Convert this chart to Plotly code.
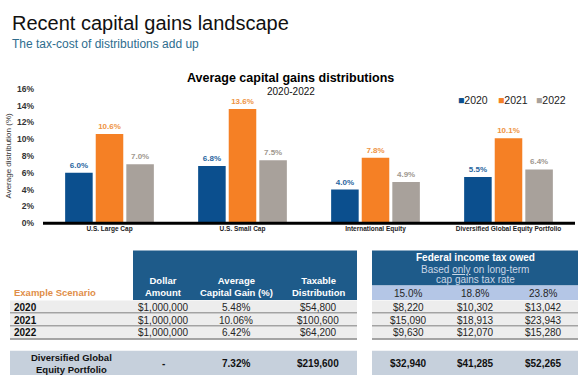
import plotly.graph_objects as go

W, H = 580, 383
FONT = "Arial, 'Liberation Sans', Helvetica, sans-serif"

# ---------------- data ----------------
categories = ["U.S. Large Cap", "U.S. Small Cap", "International Equity",
              "Diversified Global Equity Portfolio"]
years = ["2020", "2021", "2022"]
dist_2020 = [6.0, 6.8, 4.0, 5.5]
dist_2021 = [10.6, 13.6, 7.8, 10.1]
dist_2022 = [7.0, 7.5, 4.9, 6.4]
bar_colors = ["#0B4F8E", "#F58025", "#A8A19B"]
label_colors = ["#2A66A0", "#EE9444", "#A0988F"]
y_tick_vals = [0, 2, 4, 6, 8, 10, 12, 14, 16]
y_tick_text = ["0%", "2%", "4%", "6%", "8%", "10%", "12%", "14%", "16%"]

table_years = ["2020", "2021", "2022"]
left_headers = ["Dollar<br>Amount", "Average<br>Capital Gain (%)", "Taxable<br>Distribution"]
dollar_amount = ["$1,000,000", "$1,000,000", "$1,000,000"]
avg_gain = ["5.48%", "10.06%", "6.42%"]
taxable = ["$54,800", "$100,600", "$64,200"]
tax_rates = ["15.0%", "18.8%", "23.8%"]
tax_15 = ["$8,220", "$15,090", "$9,630"]
tax_188 = ["$10,302", "$18,913", "$12,070"]
tax_238 = ["$13,042", "$23,943", "$15,280"]
total_label = "Diversified Global<br>Equity Portfolio"
total_left = ["-", "7.32%", "$219,600"]
total_tax = ["$32,940", "$41,285", "$52,265"]


def px(x):
    return x / W


def py(y):
    return 1 - y / H


fig = go.Figure()
series = [dist_2020, dist_2021, dist_2022]
for name, vals, col, lcol in zip(years, series, bar_colors, label_colors):
    fig.add_trace(go.Bar(
        x=categories, y=vals, name=name,
        marker=dict(color=col, line=dict(width=0)),
        text=[f"{v:.1f}%" for v in vals], textposition="outside",
        textfont=dict(family=FONT, size=8, color=lcol, weight="bold"),
        cliponaxis=False, showlegend=False,
    ))

shapes = []
annotations = []


def txt(x, y, s, size=9.5, color="#262626", bold=False, xanchor="center", **kw):
    annotations.append(dict(
        x=px(x), y=py(y), xref="paper", yref="paper", text=s, showarrow=False,
        xanchor=xanchor, yanchor="middle",
        font=dict(family=FONT, size=size, color=color, weight="bold" if bold else "normal"),
        **kw))


def rect(x0, y0, x1, y1, fill):
    shapes.append(dict(type="rect", xref="paper", yref="paper",
                       x0=px(x0), x1=px(x1), y0=py(y1), y1=py(y0),
                       fillcolor=fill, line=dict(width=0), layer="above"))


def hline(x0, x1, y, color, width):
    shapes.append(dict(type="line", xref="paper", yref="paper",
                       x0=px(x0), x1=px(x1), y0=py(y), y1=py(y),
                       line=dict(color=color, width=width), layer="above"))


# baseline of bar chart
hline(43, 575, 224, "#000000", 3)

# titles
txt(10, 18, "Recent capital gains landscape", size=20, color="#111111", xanchor="left")
txt(10, 40, "The tax-cost of distributions add up", size=12, color="#2E6D8E", xanchor="left")
txt(291, 75, "Average capital gains distributions", size=12.5, color="#000000", bold=True)
txt(291, 89, "2020-2022", size=10, color="#111111")

# legend (built from series names/colours)
leg_x = [456, 496, 534]
for lx, name, col in zip(leg_x, years, bar_colors):
    txt(lx, 98, f"<span style='color:{col}'>■</span>{name}", size=10.5,
        color="#222222", xanchor="left")

# -------- table geometry --------
LX0, LX1 = 10, 357
HX0 = 133
RX0, RX1 = 372, 578
row_tops = [303.5, 316.8, 330.1]
ROW_H = 13.3
col_left = [163, 236, 318]
col_right = [408, 475, 543]

rect(HX0, 252, LX1, 303, "#1E5B8A")
rect(RX0, 252, RX1, 288, "#1E5B8A")
rect(RX0, 288, RX1, 303, "#B4C6E6")
for t in row_tops:
    rect(LX0, t, LX1, t + ROW_H, "#EDEDED")
    rect(RX0, t, RX1, t + ROW_H, "#EDEDED")
    hline(LX0, LX1, t + ROW_H - 0.5, "#8A8A8A", 1.5)
    hline(RX0, RX1, t + ROW_H - 0.5, "#8A8A8A", 1.5)
rect(LX0, 355, LX1, 380, "#C6D0DC")
rect(RX0, 355, RX1, 380, "#C6D0DC")

# headers
for cx, h in zip(col_left, left_headers):
    txt(cx, 289, h, size=9.5, color="#FFFFFF", bold=True)
txt(12, 295, "Example Scenario", size=9.5, color="#DF8E48", bold=True, xanchor="left")
txt(475, 259, "Federal income tax owed", size=10, color="#FFFFFF", bold=True)
txt(475, 271.5, "Based <u>only</u> on long-term", size=10, color="#CBD7E6")
txt(475, 282, "cap gains tax rate", size=10, color="#CBD7E6")
for cx, r in zip(col_right, tax_rates):
    txt(cx, 296, r, size=10, color="#262626")

# body rows
for i, t in enumerate(row_tops):
    yc = t + ROW_H / 2
    txt(12, yc, table_years[i], size=10, color="#111111", bold=True, xanchor="left")
    for cx, col in zip(col_left, [dollar_amount, avg_gain, taxable]):
        txt(cx, yc, col[i], size=10, color="#262626")
    for cx, col in zip(col_right, [tax_15, tax_188, tax_238]):
        txt(cx, yc, col[i], size=10, color="#262626")

# total row
txt(71, 368, total_label, size=9.5, color="#111111", bold=True)
for cx, v in zip(col_left, total_left):
    txt(cx, 368, v, size=10, color="#111111", bold=True)
for cx, v in zip(col_right, total_tax):
    txt(cx, 368, v, size=10, color="#111111", bold=True)

fig.update_layout(
    width=W, height=H, autosize=False,
    margin=dict(l=0, r=0, t=0, b=0),
    paper_bgcolor="#FFFFFF", plot_bgcolor="rgba(0,0,0,0)",
    barmode="group", bargap=0.31, bargroupgap=0.1,
    font=dict(family=FONT, color="#333333"),
    shapes=shapes, annotations=annotations,
    xaxis=dict(domain=[px(43), px(575)], showgrid=False, zeroline=False,
               showline=False, ticks="",
               tickfont=dict(family=FONT, size=6.5, color="#222222", weight="bold"),
               ticklabelstandoff=0, fixedrange=True),
    yaxis=dict(domain=[py(224), py(86)], range=[0, 16], showgrid=False,
               zeroline=False, showline=False, ticks="",
               tickvals=y_tick_vals, ticktext=y_tick_text,
               tickfont=dict(family=FONT, size=8.5, color="#333333", weight="bold"),
               ticklabelstandoff=8,
               title=dict(text="Average distribution (%)", standoff=4,
                          font=dict(family=FONT, size=8, color="#333333")),
               fixedrange=True),
)

fig.write_html("out.html", config={"displayModeBar": False},
               post_script="document.body.style.margin='0';document.body.style.overflow='hidden';")
